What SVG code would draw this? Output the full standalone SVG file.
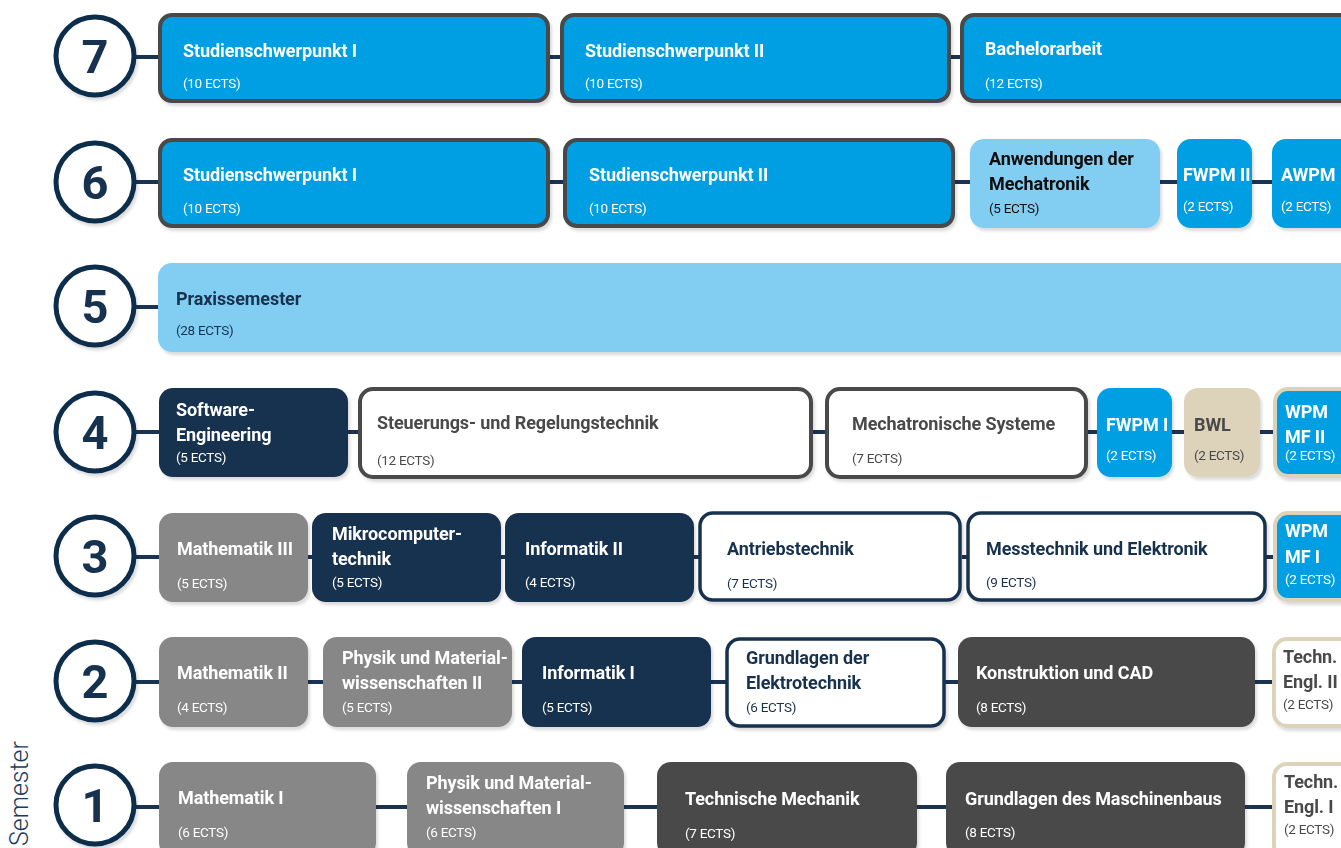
<svg xmlns="http://www.w3.org/2000/svg" width="1341" height="848" viewBox="0 0 1341 848">
  <defs>
    <filter id="shadow" x="-5%" y="-10%" width="115%" height="130%">
      <feDropShadow dx="2" dy="3" stdDeviation="1.5" flood-color="#000" flood-opacity="0.14"/>
    </filter>
  </defs>
  <style>
    text { font-family: Roboto, "Liberation Sans", sans-serif; }
    .t { font-size: 18px; font-weight: 700; letter-spacing: -0.1px; }
    .e { font-size: 13.5px; font-weight: 400; letter-spacing: -0.3px; }
    .num { font-size: 47px; font-weight: 700; fill: #14304f; text-anchor: middle; }
    .w { fill: #ffffff; }
    .nv { fill: #17304f; }
    .dg { fill: #4a4a4a; }
    .bk { fill: #0d0d0d; }
    .circ { fill: #ffffff; stroke: #0f2e4c; stroke-width: 5; }
    .blue { fill: #009fe3; }
    .lblue { fill: #82cef3; }
    .navy { fill: #17304f; }
    .gray { fill: #878787; }
    .dark { fill: #4a4a4a; }
    .beige { fill: #ddd3bb; }
    .sgray { stroke: #4a4a4a; stroke-width: 4; }
    .snavy { stroke: #17304f; stroke-width: 3.5; }
    .sbeige { stroke: #ddd3bb; stroke-width: 4; }
    .white { fill: #ffffff; }
    .node { filter: url(#shadow); }
    #connectors line { stroke: #1a3353; stroke-width: 4; }
  </style>

  <rect width="1341" height="848" fill="#ffffff"/>

  <!-- axis label -->
  <text x="28" y="846" transform="rotate(-90 28 846)" style="font-size:25px;font-weight:300;fill:#1b3a5c">Semester</text>

  <!-- connectors between semester markers and modules -->
  <g id="connectors">
    <line x1="134" y1="57" x2="160" y2="57"/>
    <line x1="550" y1="57" x2="562" y2="57"/>
    <line x1="951" y1="57" x2="962" y2="57"/>

    <line x1="134" y1="182" x2="160" y2="182"/>
    <line x1="550" y1="182" x2="565" y2="182"/>
    <line x1="955" y1="182" x2="970" y2="182"/>
    <line x1="1160" y1="182" x2="1177" y2="182"/>
    <line x1="1252" y1="182" x2="1272" y2="182"/>

    <line x1="134" y1="307" x2="160" y2="307"/>

    <line x1="134" y1="432" x2="160" y2="432"/>
    <line x1="348" y1="432" x2="360" y2="432"/>
    <line x1="813" y1="432" x2="827" y2="432"/>
    <line x1="1087" y1="432" x2="1097" y2="432"/>
    <line x1="1172" y1="432" x2="1184" y2="432"/>
    <line x1="1260" y1="432" x2="1275" y2="432"/>

    <line x1="134" y1="557" x2="160" y2="557"/>
    <line x1="308" y1="557" x2="312" y2="557"/>
    <line x1="501" y1="557" x2="505" y2="557"/>
    <line x1="694" y1="557" x2="700" y2="557"/>
    <line x1="962" y1="557" x2="968" y2="557"/>
    <line x1="1266" y1="557" x2="1275" y2="557"/>

    <line x1="134" y1="682" x2="160" y2="682"/>
    <line x1="308" y1="682" x2="323" y2="682"/>
    <line x1="512" y1="682" x2="522" y2="682"/>
    <line x1="711" y1="682" x2="727" y2="682"/>
    <line x1="945" y1="682" x2="958" y2="682"/>
    <line x1="1255" y1="682" x2="1274" y2="682"/>

    <line x1="134" y1="807" x2="160" y2="807"/>
    <line x1="376" y1="807" x2="407" y2="807"/>
    <line x1="624" y1="807" x2="657" y2="807"/>
    <line x1="917" y1="807" x2="946" y2="807"/>
    <line x1="1245" y1="807" x2="1274" y2="807"/>
  </g>

  <!-- semester markers -->
  <g id="sem7" class="node"><circle class="circ" cx="95" cy="56" r="39"/><text class="num" x="95" y="73">7</text></g>
  <g id="sem6" class="node"><circle class="circ" cx="95" cy="182" r="39"/><text class="num" x="95" y="199">6</text></g>
  <g id="sem5" class="node"><circle class="circ" cx="95" cy="306" r="39"/><text class="num" x="95" y="323">5</text></g>
  <g id="sem4" class="node"><circle class="circ" cx="95" cy="432" r="39"/><text class="num" x="95" y="449">4</text></g>
  <g id="sem3" class="node"><circle class="circ" cx="95" cy="556" r="39"/><text class="num" x="95" y="573">3</text></g>
  <g id="sem2" class="node"><circle class="circ" cx="95" cy="681" r="39"/><text class="num" x="95" y="698">2</text></g>
  <g id="sem1" class="node"><circle class="circ" cx="95" cy="805" r="39"/><text class="num" x="95" y="822">1</text></g>

  <!-- semester 7 -->
  <g id="s7-schwerpunkt1" class="node">
    <rect class="blue sgray" x="160" y="15" width="388" height="86" rx="12"/>
    <text class="t w" x="183" y="57">Studienschwerpunkt I</text>
    <text class="e w" x="183" y="88">(10 ECTS)</text>
  </g>
  <g id="s7-schwerpunkt2" class="node">
    <rect class="blue sgray" x="562" y="15" width="387" height="86" rx="12"/>
    <text class="t w" x="585" y="57">Studienschwerpunkt II</text>
    <text class="e w" x="585" y="88">(10 ECTS)</text>
  </g>
  <g id="s7-bachelorarbeit" class="node">
    <rect class="blue sgray" x="962" y="15" width="400" height="86" rx="12"/>
    <text class="t w" x="985" y="55">Bachelorarbeit</text>
    <text class="e w" x="985" y="88">(12 ECTS)</text>
  </g>

  <!-- semester 6 -->
  <g id="s6-schwerpunkt1" class="node">
    <rect class="blue sgray" x="160" y="140" width="388" height="86" rx="12"/>
    <text class="t w" x="183" y="181">Studienschwerpunkt I</text>
    <text class="e w" x="183" y="213">(10 ECTS)</text>
  </g>
  <g id="s6-schwerpunkt2" class="node">
    <rect class="blue sgray" x="565" y="140" width="388" height="86" rx="12"/>
    <text class="t w" x="589" y="181">Studienschwerpunkt II</text>
    <text class="e w" x="589" y="213">(10 ECTS)</text>
  </g>
  <g id="s6-anwendungen" class="node">
    <rect class="lblue" x="970" y="139" width="190" height="89" rx="14"/>
    <text class="t bk" x="989" y="165">Anwendungen der</text>
    <text class="t bk" x="989" y="190">Mechatronik</text>
    <text class="e bk" x="989" y="213">(5 ECTS)</text>
  </g>
  <g id="s6-fwpm2" class="node">
    <rect class="blue" x="1177" y="139" width="75" height="89" rx="14"/>
    <text class="t w" x="1183" y="181">FWPM II</text>
    <text class="e w" x="1183" y="211">(2 ECTS)</text>
  </g>
  <g id="s6-awpm" class="node">
    <rect class="blue" x="1272" y="139" width="90" height="89" rx="14"/>
    <text class="t w" x="1281" y="181">AWPM</text>
    <text class="e w" x="1281" y="211">(2 ECTS)</text>
  </g>

  <!-- semester 5 -->
  <g id="s5-praxis" class="node">
    <rect class="lblue" x="158" y="263" width="1200" height="89" rx="14"/>
    <text class="t nv" x="176" y="305">Praxissemester</text>
    <text class="e nv" x="176" y="335">(28 ECTS)</text>
  </g>

  <!-- semester 4 -->
  <g id="s4-software" class="node">
    <rect class="navy" x="159" y="388" width="189" height="89" rx="14"/>
    <text class="t w" x="176" y="416">Software-</text>
    <text class="t w" x="176" y="441">Engineering</text>
    <text class="e w" x="176" y="462">(5 ECTS)</text>
  </g>
  <g id="s4-regelung" class="node">
    <rect class="white sgray" x="360" y="389" width="451" height="88" rx="13"/>
    <text class="t dg" x="377" y="429">Steuerungs- und Regelungstechnik</text>
    <text class="e dg" x="377" y="465">(12 ECTS)</text>
  </g>
  <g id="s4-mechatronik" class="node">
    <rect class="white sgray" x="827" y="389" width="259" height="88" rx="13"/>
    <text class="t dg" x="852" y="430">Mechatronische Systeme</text>
    <text class="e dg" x="852" y="463">(7 ECTS)</text>
  </g>
  <g id="s4-fwpm1" class="node">
    <rect class="blue" x="1097" y="388" width="75" height="89" rx="14"/>
    <text class="t w" x="1106" y="431">FWPM I</text>
    <text class="e w" x="1106" y="460">(2 ECTS)</text>
  </g>
  <g id="s4-bwl" class="node">
    <rect class="beige" x="1184" y="388" width="76" height="89" rx="14"/>
    <text class="t dg" x="1194" y="431">BWL</text>
    <text class="e dg" x="1194" y="460">(2 ECTS)</text>
  </g>
  <g id="s4-wpm2" class="node">
    <rect class="blue sbeige" x="1275" y="389" width="90" height="87" rx="13"/>
    <text class="t w" x="1285" y="418">WPM</text>
    <text class="t w" x="1285" y="443">MF II</text>
    <text class="e w" x="1285" y="460">(2 ECTS)</text>
  </g>

  <!-- semester 3 -->
  <g id="s3-mathe3" class="node">
    <rect class="gray" x="159" y="513" width="149" height="89" rx="14"/>
    <text class="t w" x="177" y="555">Mathematik III</text>
    <text class="e w" x="177" y="588">(5 ECTS)</text>
  </g>
  <g id="s3-mikro" class="node">
    <rect class="navy" x="312" y="513" width="189" height="89" rx="14"/>
    <text class="t w" x="332" y="540">Mikrocomputer-</text>
    <text class="t w" x="332" y="565">technik</text>
    <text class="e w" x="332" y="587">(5 ECTS)</text>
  </g>
  <g id="s3-info2" class="node">
    <rect class="navy" x="505" y="513" width="189" height="89" rx="14"/>
    <text class="t w" x="525" y="555">Informatik II</text>
    <text class="e w" x="525" y="587">(4 ECTS)</text>
  </g>
  <g id="s3-antrieb" class="node">
    <rect class="white snavy" x="700" y="513" width="260" height="87" rx="13"/>
    <text class="t nv" x="727" y="555">Antriebstechnik</text>
    <text class="e nv" x="727" y="588">(7 ECTS)</text>
  </g>
  <g id="s3-mess" class="node">
    <rect class="white snavy" x="968" y="513" width="297" height="87" rx="13"/>
    <text class="t nv" x="986" y="555">Messtechnik und Elektronik</text>
    <text class="e nv" x="986" y="587">(9 ECTS)</text>
  </g>
  <g id="s3-wpm1" class="node">
    <rect class="blue sbeige" x="1275" y="513" width="90" height="87" rx="13"/>
    <text class="t w" x="1285" y="537">WPM</text>
    <text class="t w" x="1285" y="563">MF I</text>
    <text class="e w" x="1285" y="584">(2 ECTS)</text>
  </g>

  <!-- semester 2 -->
  <g id="s2-mathe2" class="node">
    <rect class="gray" x="159" y="637" width="149" height="90" rx="14"/>
    <text class="t w" x="177" y="679">Mathematik II</text>
    <text class="e w" x="177" y="712">(4 ECTS)</text>
  </g>
  <g id="s2-physik2" class="node">
    <rect class="gray" x="323" y="637" width="189" height="90" rx="14"/>
    <text class="t w" x="342" y="664">Physik und Material-</text>
    <text class="t w" x="342" y="689">wissenschaften II</text>
    <text class="e w" x="342" y="712">(5 ECTS)</text>
  </g>
  <g id="s2-info1" class="node">
    <rect class="navy" x="522" y="637" width="189" height="90" rx="14"/>
    <text class="t w" x="542" y="679">Informatik I</text>
    <text class="e w" x="542" y="712">(5 ECTS)</text>
  </g>
  <g id="s2-elektro" class="node">
    <rect class="white snavy" x="727" y="639" width="217" height="87" rx="13"/>
    <text class="t nv" x="746" y="664">Grundlagen der</text>
    <text class="t nv" x="746" y="689">Elektrotechnik</text>
    <text class="e nv" x="746" y="712">(6 ECTS)</text>
  </g>
  <g id="s2-cad" class="node">
    <rect class="dark" x="958" y="637" width="297" height="90" rx="14"/>
    <text class="t w" x="976" y="679">Konstruktion und CAD</text>
    <text class="e w" x="976" y="712">(8 ECTS)</text>
  </g>
  <g id="s2-englisch2" class="node">
    <rect class="white sbeige" x="1274" y="639" width="90" height="87" rx="13"/>
    <text class="t dg" x="1283" y="663">Techn.</text>
    <text class="t dg" x="1283" y="688">Engl. II</text>
    <text class="e dg" x="1283" y="709">(2 ECTS)</text>
  </g>

  <!-- semester 1 -->
  <g id="s1-mathe1" class="node">
    <rect class="gray" x="159" y="762" width="217" height="95" rx="14"/>
    <text class="t w" x="178" y="804">Mathematik I</text>
    <text class="e w" x="178" y="837">(6 ECTS)</text>
  </g>
  <g id="s1-physik1" class="node">
    <rect class="gray" x="407" y="762" width="217" height="95" rx="14"/>
    <text class="t w" x="426" y="789">Physik und Material-</text>
    <text class="t w" x="426" y="814">wissenschaften I</text>
    <text class="e w" x="426" y="837">(6 ECTS)</text>
  </g>
  <g id="s1-mechanik" class="node">
    <rect class="dark" x="657" y="762" width="260" height="95" rx="14"/>
    <text class="t w" x="685" y="805">Technische Mechanik</text>
    <text class="e w" x="685" y="838">(7 ECTS)</text>
  </g>
  <g id="s1-maschinenbau" class="node">
    <rect class="dark" x="946" y="762" width="299" height="95" rx="14"/>
    <text class="t w" x="965" y="805">Grundlagen des Maschinenbaus</text>
    <text class="e w" x="965" y="837">(8 ECTS)</text>
  </g>
  <g id="s1-englisch1" class="node">
    <rect class="white sbeige" x="1274" y="764" width="90" height="95" rx="13"/>
    <text class="t dg" x="1284" y="788">Techn.</text>
    <text class="t dg" x="1284" y="813">Engl. I</text>
    <text class="e dg" x="1284" y="834">(2 ECTS)</text>
  </g>
</svg>
